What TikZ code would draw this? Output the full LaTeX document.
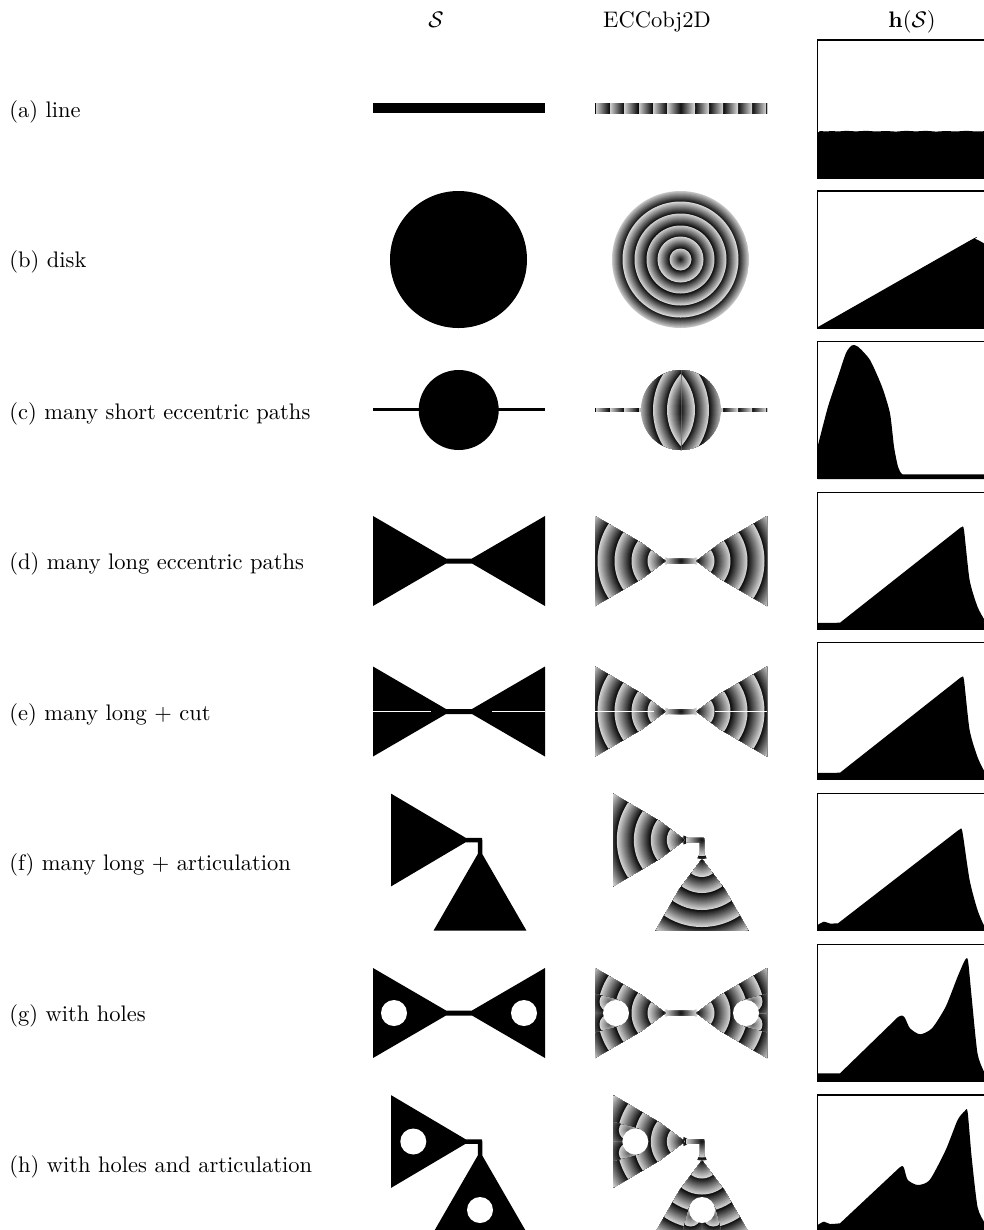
\documentclass[tikz,border=0pt]{standalone}
\usepackage{amsmath}

\def\bowtiepath{(-86,-45) -- (-13,-2.5) -- (13,-2.5) -- (86,-45) -- (86,45) -- (13,2.5) -- (-13,2.5) -- (-86,45) -- cycle}
\def\elbowpath{(-89,-46.4) -- (-14.4,-2.25) -- (0,-2.25) .. controls (2.25,-2.25) .. (2.25,0) -- (2.25,14) -- (46.5,90.7) -- (-46.5,90.7) -- (-2.25,14) -- (-2.25,2.25) -- (-14.4,2.25) -- (-89,46.4) -- cycle}

% discs from the largest radius down: centre, start value, largest radius, band width
\newcommand{\eccbands}[4]{
  \foreach \k in {0,...,#3} {
    \pgfmathtruncatemacro\rad{#3-\k}
    \pgfmathsetmacro\tone{96-81*mod(\rad+#2,#4)/#4}
    \fill[black!\tone] (#1) circle[radius=\rad];
  }
}
% one cone: shift, rotation
\newcommand{\ringcone}[2]{
  \begin{scope}[shift={(#1)},rotate=#2]
    \clip (0,0) -- (-120,-90) -- (-120,90) -- cycle;
    \eccbands{0,0}{15.5}{100}{16.8}
  \end{scope}
}
% the same cone with a hole in it
\newcommand{\holecone}[2]{
  \ringcone{#1}{#2}
  \begin{scope}[shift={(#1)},rotate=#2]
    \begin{scope}
      \clip (-46.1,-12.5) -- (-110,-29.9) -- (-110,0.5) -- (-49.5,0.5) -- cycle;
      \eccbands{-56,-11.3}{73.5}{50}{16.8}
    \end{scope}
    \begin{scope}
      \clip (-46.1,12.5) -- (-110,29.9) -- (-110,0) -- (-49.5,0) -- cycle;
      \eccbands{-56,11.3}{73.5}{50}{16.8}
    \end{scope}
    \fill[white] (-49.5,0) circle[radius=13];
  \end{scope}
}

\begin{document}
\begin{tikzpicture}[
  x=0.4445pt, y=-0.4445pt,
  heading/.style={anchor=base},
  rowname/.style={anchor=base west, inner sep=0pt},
  histframe/.style={draw=black, line width=0.55pt}
]
\useasboundingbox (0,0) rectangle (984,1230);
\clip (0,0) rectangle (984,1230);

\node[heading] (headS) at (436,27) {$\mathcal{S}$};
\node[heading] (headE) at (657,27) {ECCobj2D};
\node[heading] (headH) at (912,27) {$\mathbf{h}(\mathcal{S})$};

\node[rowname] (rowa) at (9,117) {(a) line};
\node[rowname] (rowb) at (9,267) {(b) disk};
\node[rowname] (rowc) at (9,419) {(c) many short eccentric paths};
\node[rowname] (rowd) at (9,569) {(d) many long eccentric paths};
\node[rowname] (rowe) at (9,720) {(e) many long + cut};
\node[rowname] (rowf) at (9,870) {(f) many long + articulation};
\node[rowname] (rowg) at (9,1021) {(g) with holes};
\node[rowname] (rowh) at (9,1172) {(h) with holes and articulation};

% first column
\fill (373,103) rectangle (545,113);
\fill (458.5,259.5) circle[radius=68.5];
\fill (458.7,410) circle[radius=40];
\fill (373,408) rectangle (545,411);
\begin{scope}[shift={(459,561)}]
  \fill \bowtiepath;
\end{scope}
\begin{scope}[shift={(459,711.5)}]
  \fill \bowtiepath;
  \fill[white] (-86,-1) rectangle (-28,0.5);
  \fill[white] (32.5,-1) rectangle (86,0.5);
\end{scope}
\begin{scope}[shift={(480,840)}]
  \fill \elbowpath;
\end{scope}
\begin{scope}[shift={(459,1013)}]
  \fill \bowtiepath;
  \fill[white] (-65,0) circle[radius=13];
  \fill[white] (65,0) circle[radius=13];
\end{scope}
\begin{scope}[shift={(480,1141.5)}]
  \fill \elbowpath;
  \fill[white] (-66.7,0) circle[radius=13];
  \fill[white] (0,68.5) circle[radius=13];
\end{scope}

% second column
\begin{scope}[shift={(681,108)}]
  \clip (-86,-5) rectangle (86,5);
  \begin{scope}[yscale=8]
    \eccbands{0,0}{0}{87}{14.33}
  \end{scope}
\end{scope}
\begin{scope}[shift={(680.5,259.5)}]
  \clip (0,0) circle[radius=68.5];
  \eccbands{0,0}{0}{69}{11.6}
\end{scope}
\begin{scope}[shift={(681,410)}]
  \begin{scope}
    \clip (-86,-2) rectangle (86,1);
    \begin{scope}[yscale=8]
      \eccbands{0,0}{0}{87}{14.33}
    \end{scope}
  \end{scope}
  \clip (0,0) circle[radius=40];
  \begin{scope}
    \clip (0,-50) rectangle (41,50);
    \eccbands{-40,0}{2.99}{81}{14.33}
  \end{scope}
  \begin{scope}
    \clip (0,-50) rectangle (-41,50);
    \eccbands{40,0}{2.99}{81}{14.33}
  \end{scope}
\end{scope}
\begin{scope}[shift={(681,561)}]
  \clip \bowtiepath;
  \eccbands{0,0}{0}{16}{16.8}
  \ringcone{-15.5,0}{0}
  \ringcone{15.5,0}{180}
\end{scope}
\begin{scope}[shift={(681,711.5)}]
  \begin{scope}
    \clip \bowtiepath;
    \eccbands{0,0}{0}{16}{16.8}
    \ringcone{-15.5,0}{0}
    \ringcone{15.5,0}{180}
  \end{scope}
  \fill[white] (-86,-1) rectangle (-27,0.5);
  \fill[white] (33.5,-1) rectangle (86,0.5);
\end{scope}
\begin{scope}[shift={(702,840)}]
  \clip \elbowpath;
  \eccbands{0,0}{0}{19}{16.8}
  \ringcone{-17.2,0}{0}
  \ringcone{0,19}{90}
\end{scope}
\begin{scope}[shift={(681,1013)}]
  \clip \bowtiepath;
  \eccbands{0,0}{0}{16}{16.8}
  \holecone{-15.5,0}{0}
  \holecone{15.5,0}{180}
\end{scope}
\begin{scope}[shift={(702,1141.5)}]
  \clip \elbowpath;
  \eccbands{0,0}{0}{19}{16.8}
  \holecone{-17.2,0}{0}
  \holecone{0,19}{90}
\end{scope}

% third column
\fill (817.5,133) -- (820,131) -- (826,131.5) -- (832,131) -- (838,131.5) -- (846,130.8) -- (856,131.4) -- (866,130.8) -- (876,131.5) -- (886,131) -- (896,131.6) -- (906,130.8) -- (916,131.4) -- (926,130.8) -- (936,131.6) -- (946,131) -- (956,131.5) -- (966,130.8) -- (976,131.5) -- (990,131) -- (990,178) -- (817.5,178) -- cycle;
\draw[histframe] (817.5,40) rectangle (990,178);

\fill plot[smooth,tension=0.3] coordinates {(818,327) (970,240.5) (975,239) (979,240.5) (990,247)} -- (990,328) -- (817.5,328) -- cycle;
\draw[histframe] (817.5,191) rectangle (990,328);

\fill plot[smooth,tension=0.4] coordinates {(817.5,447) (828,406.7) (838,376.7) (846,353) (852,345.3) (858,346.7) (870,360) (882,386.7) (890,413.3) (894,446.7) (898,466.7) (902,474) (910,474.3) (990,474.3)} -- (990,479) -- (817.5,479) -- cycle;
\draw[histframe] (817.5,341.3) rectangle (990,478.7);

\fill (817.5,623) -- (840,622.7) -- (960,528) -- plot[smooth,tension=0.4] coordinates {(960,528) (962,527) (964,530) (969.6,580) (977.5,606.7) (984.7,620) (990,624)} -- (990,629.3) -- (817.5,629.3) -- cycle;
\draw[histframe] (817.5,492.3) rectangle (990,629.3);

\fill (817.5,773) -- (840,772.7) -- (960,678) -- plot[smooth,tension=0.4] coordinates {(960,678) (962,677) (964,680) (969.6,730) (977.5,757) (984.7,771.7) (990,775)} -- (990,779.3) -- (817.5,779.3) -- cycle;
\draw[histframe] (817.5,642.7) rectangle (990,779.3);

\fill plot[smooth,tension=0.4] coordinates {(817.5,925) (824,921.7) (830,923.5) (838,923.3)} -- plot[smooth,tension=0.4] coordinates {(958,830.5) (960,829.3) (962.4,831.7) (969.6,880) (977.5,910) (984.7,926.7) (990,930)} -- (990,930.7) -- (817.5,930.7) -- cycle;
\draw[histframe] (817.5,793.3) rectangle (990,930.7);

\fill (817.5,1073.3) -- (840,1073.3) -- plot[smooth,tension=0.4] coordinates {(898,1017) (902,1015.5) (905,1018) (910,1028.3) (920,1034.3) (932,1028.3) (945.7,1006.7) (957.6,976.7) (965,960) (968,960.5) (971.6,996.7) (977.5,1053.3) (984.7,1073) (990,1079)} -- (990,1081.7) -- (817.5,1081.7) -- cycle;
\draw[histframe] (817.5,944.3) rectangle (990,1081.7);

\fill plot[smooth,tension=0.4] coordinates {(817.5,1225) (824,1221.7) (830,1224) (840,1223.3)} -- plot[smooth,tension=0.4] coordinates {(899,1168) (902,1166) (904,1168) (907.8,1180) (917.8,1185) (929.7,1180) (945.7,1150) (957.6,1120) (964.8,1111) (967.6,1111.7) (971.6,1156.7) (977.5,1206.7) (984.7,1223) (990,1230)} -- (990,1232) -- (817.5,1232) -- cycle;
\draw[histframe] (817.5,1095) rectangle (990,1232);
\end{tikzpicture}
\end{document}
